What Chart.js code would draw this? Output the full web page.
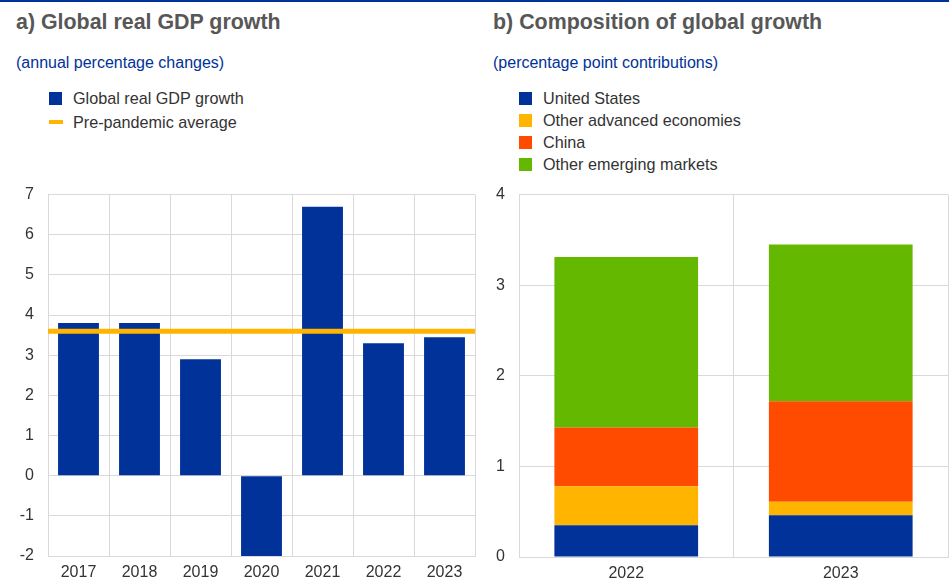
<!DOCTYPE html>
<html lang="en">
<head>
<meta charset="UTF-8">
<title>Global growth</title>
<script src="https://cdn.jsdelivr.net/npm/chart.js"></script>
<style>
  body { margin: 0; background: #fff; font-family: 'Liberation Sans', Arial, sans-serif; }
  #page { position: relative; width: 949px; height: 583px; overflow: hidden; }
  .topline { position: absolute; left: 0; top: 0; width: 949px; height: 2px; background: #003299; }
  .title { position: absolute; top: 10px; font-size: 21.4px; font-weight: bold; color: #575757; white-space: nowrap; }
  .sub { position: absolute; top: 54px; font-size: 16px; color: #003299; white-space: nowrap; }
  .legend { position: absolute; font-size: 16.2px; color: #333; }
  .legend div { position: relative; height: 22px; line-height: 22px; padding-left: 24px; white-space: nowrap; }
  #legA div { height: 24px; line-height: 24px; }
  .box { position: absolute; }
  canvas { position: absolute; }
</style>
</head>
<body>
<div id="page">
  <div class="topline"></div>
  <div class="title" style="left:16px">a) Global real GDP growth</div>
  <div class="sub" style="left:16px">(annual percentage changes)</div>
  <div class="legend" id="legA" style="left:49px; top:86px"></div>

  <div class="title" style="left:493px">b) Composition of global growth</div>
  <div class="sub" style="left:493px">(percentage point contributions)</div>
  <div class="legend" id="legB" style="left:519px; top:87px"></div>

  <canvas id="chartA" width="480" height="412" style="left:0; top:171px"></canvas>
  <canvas id="chartB" width="469" height="412" style="left:480px; top:171px"></canvas>
</div>

<script>
// panel a
const years = ['2017', '2018', '2019', '2020', '2021', '2022', '2023'];
const gdpGrowth = [3.8, 3.8, 2.9, -2.0, 6.7, 3.3, 3.45];
const prePandemicAvg = [3.6];
const gdpTicks = [-2, 7];

// panel b
const compYears = ['2022', '2023'];
const unitedStates = [0.35, 0.46];
const otherAdvanced = [0.43, 0.15];
const china = [0.65, 1.11];
const otherEmerging = [1.88, 1.73];
const compTicks = [0, 4];

const BLUE = '#003299', YELLOW = '#FFB400', ORANGE = '#FF4B00', GREEN = '#65B800';
const GRID = '#d9d9d9';
const FONT = { family: "'Liberation Sans', Arial, sans-serif", size: 16 };

Chart.defaults.font.family = FONT.family;
Chart.defaults.color = '#333';

// html legends
const legA = document.getElementById('legA');
[['Global real GDP growth', BLUE, 'box'], ['Pre-pandemic average', YELLOW, 'line']].forEach(([t, c, k]) => {
  const d = document.createElement('div');
  const s = k === 'box'
    ? `<i class="box" style="left:0;top:6px;width:13px;height:13px;background:${c}"></i>`
    : `<i class="box" style="left:0;top:10px;width:14px;height:4px;background:${c}"></i>`;
  d.innerHTML = s + t;
  legA.appendChild(d);
});
const legB = document.getElementById('legB');
[['United States', BLUE], ['Other advanced economies', YELLOW], ['China', ORANGE], ['Other emerging markets', GREEN]].forEach(([t, c]) => {
  const d = document.createElement('div');
  d.innerHTML = `<i class="box" style="left:0;top:5px;width:13px;height:13px;background:${c}"></i>` + t;
  legB.appendChild(d);
});

// horizontal average line across the whole plot area
const avgLine = {
  id: 'avgLine',
  afterDatasetsDraw(chart) {
    const { ctx, chartArea, scales } = chart;
    ctx.save();
    ctx.strokeStyle = YELLOW;
    ctx.lineWidth = 5;
    prePandemicAvg.forEach(v => {
      const y = scales.y.getPixelForValue(v);
      ctx.beginPath();
      ctx.moveTo(chartArea.left, y);
      ctx.lineTo(chartArea.right, y);
      ctx.stroke();
    });
    ctx.restore();
  }
};

const commonX = (h) => ({
  grid: { color: GRID, drawTicks: false },
  border: { color: GRID },
  ticks: { font: FONT, color: '#333', padding: 7, maxRotation: 0 },
  afterFit: s => { s.height = h; }
});
const commonY = (w, lim) => ({
  min: lim[0], max: lim[1],
  grid: { color: GRID, drawTicks: false },
  border: { color: GRID },
  ticks: { font: FONT, color: '#333', stepSize: 1, padding: 14 },
  afterFit: s => { s.width = w; }
});

new Chart(document.getElementById('chartA'), {
  type: 'bar',
  data: {
    labels: years,
    datasets: [
      { label: 'Global real GDP growth', data: gdpGrowth, backgroundColor: BLUE,
        categoryPercentage: 1, barPercentage: 0.67 }
    ]
  },
  options: {
    responsive: false, animation: false, devicePixelRatio: 1,
    layout: { padding: { top: 4, right: 5, left: 0, bottom: 0 } },
    plugins: { legend: { display: false }, tooltip: { enabled: false } },
    scales: {
      x: commonX(27),
      y: commonY(48, gdpTicks)
    }
  },
  plugins: [avgLine]
});

new Chart(document.getElementById('chartB'), {
  type: 'bar',
  data: {
    labels: compYears,
    datasets: [
      { label: 'United States', data: unitedStates, backgroundColor: BLUE },
      { label: 'Other advanced economies', data: otherAdvanced, backgroundColor: YELLOW },
      { label: 'China', data: china, backgroundColor: ORANGE },
      { label: 'Other emerging markets', data: otherEmerging, backgroundColor: GREEN }
    ].map(d => Object.assign(d, { categoryPercentage: 1, barPercentage: 0.67 }))
  },
  options: {
    responsive: false, animation: false, devicePixelRatio: 1,
    layout: { padding: { top: 6, right: 1, left: 0, bottom: 0 } },
    plugins: { legend: { display: false }, tooltip: { enabled: false } },
    scales: {
      x: Object.assign(commonX(26), { stacked: true }),
      y: Object.assign(commonY(39, compTicks), { stacked: true })
    }
  }
});
</script>
</body>
</html>
